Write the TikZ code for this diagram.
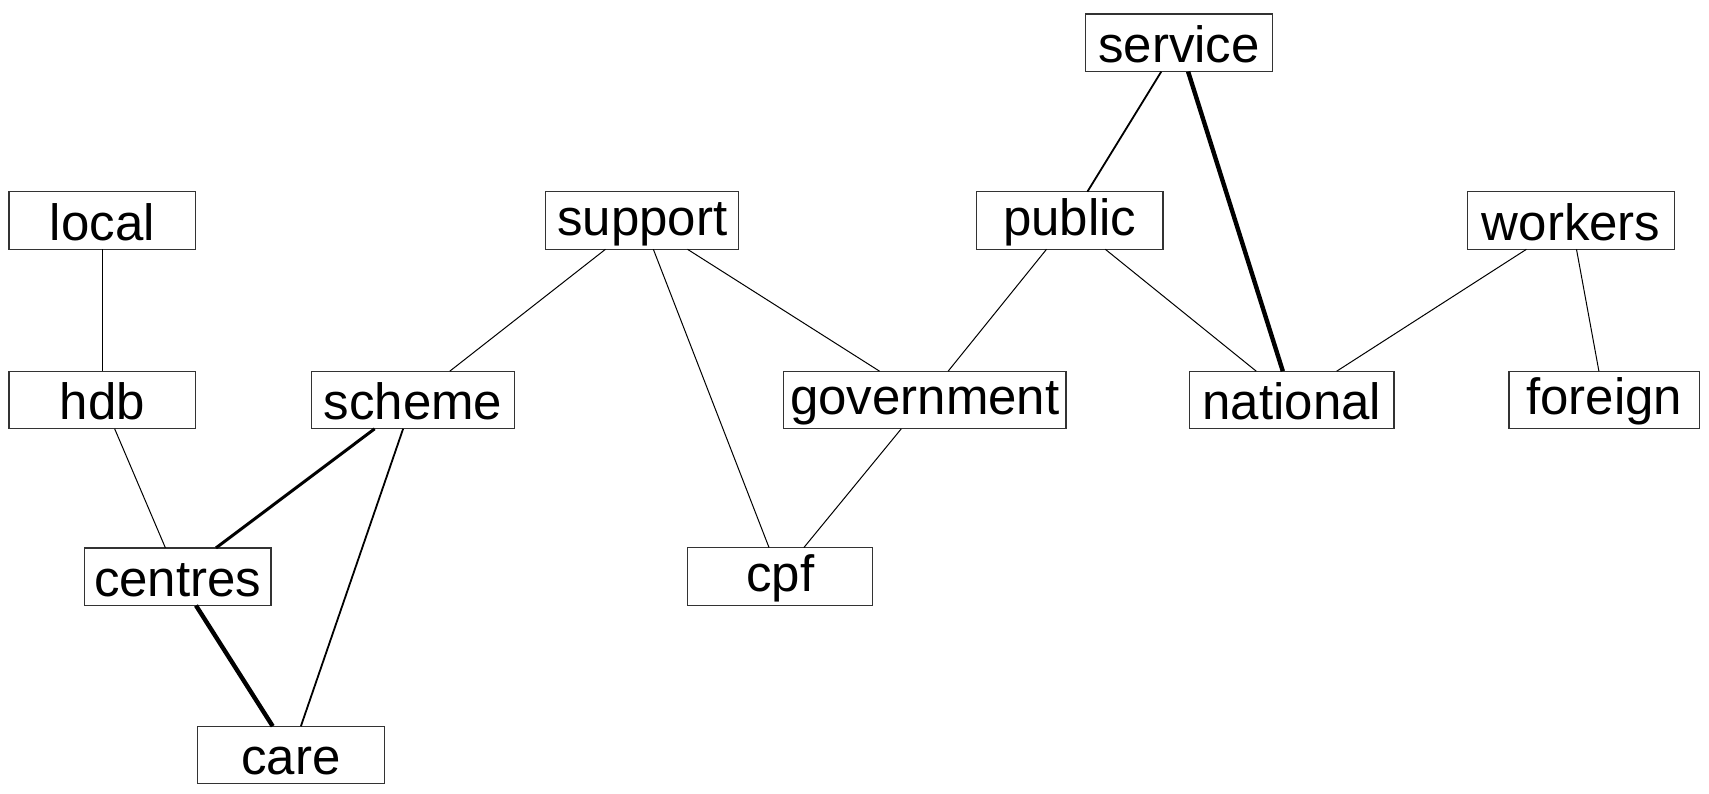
\documentclass[tikz,border=0pt]{standalone}
\usepackage{fontspec}
\setmainfont{Liberation Sans}
\begin{document}
\begin{tikzpicture}[x=0.5pt,y=-0.5pt,
  word/.style={draw=black!80,line width=0.65pt,inner xsep=3pt,inner ysep=0pt,outer sep=0pt,
    minimum width=93.3pt,minimum height=28.8pt,font=\fontsize{25.5}{30}\selectfont,
    execute at begin node={\rule{0pt}{20.15pt}}},
  weak/.style={line width=0.5pt},
  mid/.style={line width=0.9pt},
  firm/.style={line width=1.5pt},
  strong/.style={line width=2.2pt}]
\useasboundingbox (0,0) rectangle (1709,793);
\node[word] (service) at (1179,42.8) {service};
\node[word] (local) at (102.4,220.5) {local};
\node[word,minimum width=96.5pt] (support) at (642.2,220.5) {support};
\node[word] (public) at (1069.7,220.5) {public};
\node[word,minimum width=103.5pt] (workers) at (1571.2,220.5) {workers};
\node[word] (hdb) at (102.4,400) {hdb};
\node[word,minimum width=101.3pt] (scheme) at (413,400) {scheme};
\node[word,minimum width=141.2pt] (government) at (924.9,400) {government};
\node[word,minimum width=102.2pt] (national) at (1291.9,400) {national};
\node[word,minimum width=95.2pt] (foreign) at (1604.2,400) {foreign};
\node[word] (centres) at (177.7,576.7) {centres};
\node[word,minimum width=92.5pt] (cpf) at (780.2,576.4) {cpf};
\node[word] (care) at (291,755) {care};
\draw[mid] (local) -- (hdb);
\draw[weak] (hdb) -- (centres);
\draw[firm] (scheme) -- (centres);
\draw[mid] (scheme) -- (care);
\draw[strong] (centres) -- (care);
\draw[weak] (support) -- (scheme);
\draw[weak] (support) -- (cpf);
\draw[weak] (support) -- (government);
\draw[weak] (government) -- (cpf);
\draw[weak] (public) -- (government);
\draw[weak] (public) -- (national);
\draw[mid] (service) -- (public);
\draw[strong] (service) -- (national);
\draw[weak] (workers) -- (national);
\draw[weak] (workers) -- (foreign);
\end{tikzpicture}
\end{document}
